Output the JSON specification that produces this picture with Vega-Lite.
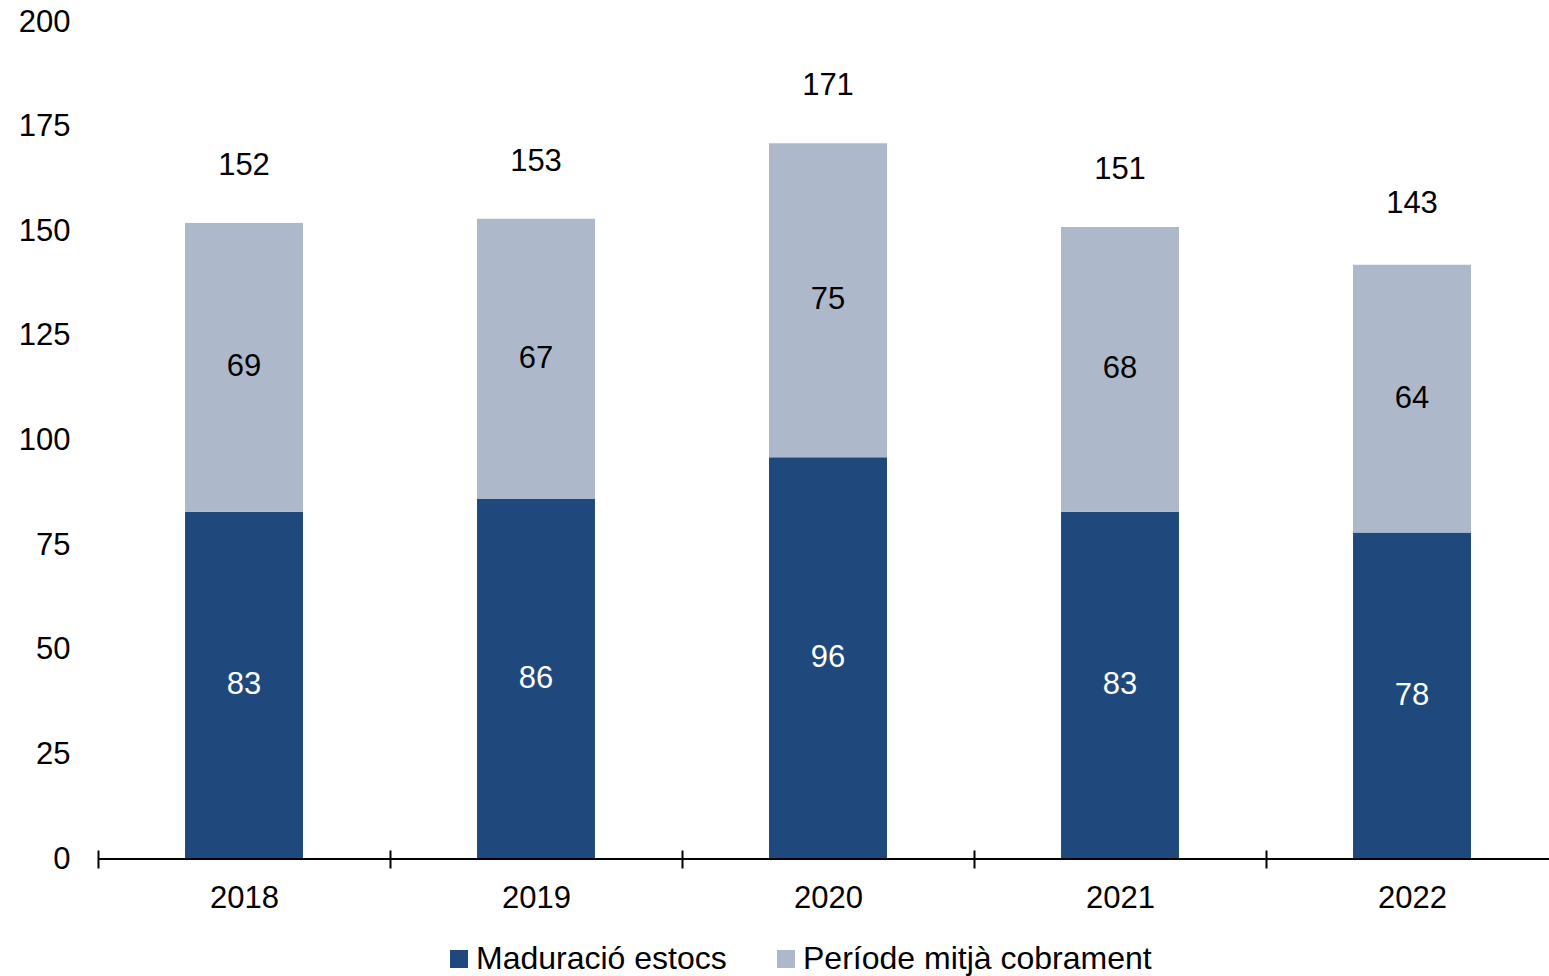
{
  "$schema": "https://vega.github.io/schema/vega-lite/v6.json",
  "autosize": {"type": "none"},
  "padding": {"left": 98, "top": 22, "right": 0, "bottom": 117},
  "width": 1460,
  "height": 837,
  "background": "white",
  "config": {
    "view": {"stroke": null},
    "font": "Liberation Sans",
    "text": {"font": "Liberation Sans"}
  },
  "data": {
    "values": [
      {"year": "2018", "serie": "Maduració estocs", "value": 83, "total": 152},
      {"year": "2018", "serie": "Període mitjà cobrament", "value": 69, "total": 152},
      {"year": "2019", "serie": "Maduració estocs", "value": 86, "total": 153},
      {"year": "2019", "serie": "Període mitjà cobrament", "value": 67, "total": 153},
      {"year": "2020", "serie": "Maduració estocs", "value": 96, "total": 171},
      {"year": "2020", "serie": "Període mitjà cobrament", "value": 75, "total": 171},
      {"year": "2021", "serie": "Maduració estocs", "value": 83, "total": 151},
      {"year": "2021", "serie": "Període mitjà cobrament", "value": 68, "total": 151},
      {"year": "2022", "serie": "Maduració estocs", "value": 78, "total": 143},
      {"year": "2022", "serie": "Període mitjà cobrament", "value": 64, "total": 143}
    ]
  },
  "layer": [
    {
      "mark": {"type": "bar"},
      "encoding": {
        "x": {
          "field": "year",
          "type": "nominal",
          "scale": {"paddingInner": 0.596, "paddingOuter": 0.298},
          "axis": {
            "title": null,
            "labelAngle": 0,
            "domain": false,
            "tickSize": 18,
            "tickWidth": 2,
            "tickColor": "#000000",
            "tickOffset": -146,
            "labelOffset": 146,
            "offset": -9,
            "labelPadding": 15,
            "labelFontSize": 31,
            "labelColor": "#000000",
            "labelFont": "Liberation Sans"
          }
        },
        "y": {
          "field": "value",
          "type": "quantitative",
          "stack": "zero",
          "scale": {"domain": [0, 200], "nice": false},
          "axis": {
            "title": null,
            "values": [0, 25, 50, 75, 100, 125, 150, 175, 200],
            "domain": false,
            "ticks": false,
            "grid": false,
            "labelPadding": 28,
            "labelFontSize": 31,
            "labelColor": "#000000",
            "labelFont": "Liberation Sans"
          }
        },
        "color": {
          "field": "serie",
          "type": "nominal",
          "scale": {
            "domain": ["Maduració estocs", "Període mitjà cobrament"],
            "range": ["#1f497d", "#adb9ca"]
          },
          "legend": {
            "title": null,
            "orient": "none",
            "legendX": 345,
            "legendY": 921,
            "direction": "horizontal",
            "symbolType": "square",
            "symbolSize": 324,
            "symbolStrokeWidth": 0,
            "labelFontSize": 32,
            "labelFont": "Liberation Sans",
            "labelColor": "#000000",
            "labelOffset": 1,
            "labelLimit": 0,
            "columnPadding": 43,
            "padding": 0
          }
        },
        "order": {"field": "serie", "sort": "ascending"}
      }
    },
    {
      "mark": {"type": "text", "fontSize": 31, "baseline": "middle", "align": "center"},
      "encoding": {
        "x": {"field": "year", "type": "nominal"},
        "y": {"field": "value", "type": "quantitative", "stack": "zero", "bandPosition": 0.5},
        "text": {"field": "value", "type": "quantitative"},
        "color": {
          "field": "serie",
          "type": "nominal",
          "scale": {
            "domain": ["Maduració estocs", "Període mitjà cobrament"],
            "range": ["#ffffff", "#000000"]
          },
          "legend": null
        },
        "order": {"field": "serie", "sort": "ascending"}
      }
    },
    {
      "transform": [{"filter": "datum.serie === 'Maduració estocs'"}],
      "mark": {"type": "text", "fontSize": 31, "baseline": "middle", "align": "center", "dy": -57, "color": "#000000"},
      "encoding": {
        "x": {"field": "year", "type": "nominal"},
        "y": {"field": "total", "type": "quantitative"},
        "text": {"field": "total", "type": "quantitative"}
      }
    },
    {
      "mark": {"type": "rule", "color": "#000000", "strokeWidth": 2},
      "encoding": {"y": {"datum": 0}}
    }
  ],
  "resolve": {"scale": {"color": "independent"}}
}
